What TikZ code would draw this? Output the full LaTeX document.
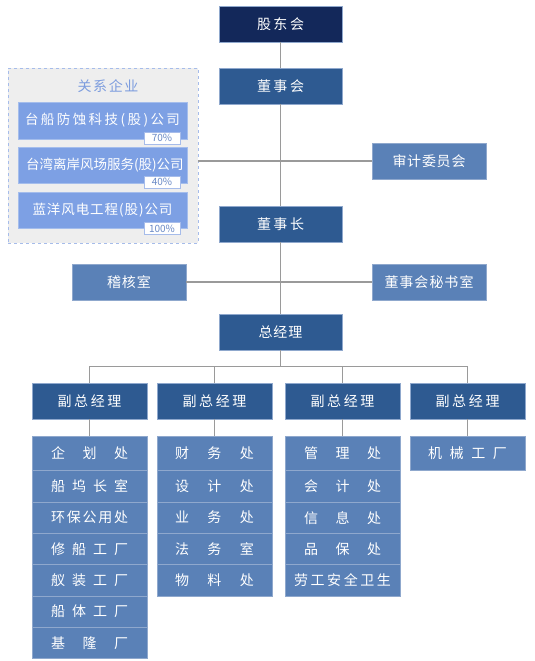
\documentclass[tikz,border=0pt]{standalone}
\usepackage{fontspec}
\setmainfont{Noto Sans CJK SC}
\usetikzlibrary{positioning,calc}

\definecolor{navy}{HTML}{13285A}
\definecolor{darkblue}{HTML}{2E5A91}
\definecolor{midblue}{HTML}{5A81B7}
\definecolor{itemblue}{HTML}{7DA0E4}
\definecolor{edgeblue}{HTML}{8FA8CD}
\definecolor{groupgray}{HTML}{EEEEEE}
\definecolor{dashblue}{HTML}{A6BCEA}
\definecolor{titleblue}{HTML}{7C9CDE}
\definecolor{tagblue}{HTML}{6A8AC6}
\definecolor{linegray}{HTML}{9A9A9A}

% spread the characters of #2 over a width of #1
\makeatletter
\def\spreadloop#1#2{#1\ifx\relax#2\expandafter\@gobble\else\hfill\expandafter\@firstofone\fi{\spreadloop#2}}
\makeatother
\newcommand{\spread}[2]{\makebox[#1][s]{\expandafter\spreadloop#2\relax}}

\tikzstyle{box} = [draw=edgeblue, line width=0.7pt, text=white, inner sep=0pt, outer sep=0pt, minimum height=36pt, font=\fontsize{14pt}{16pt}\selectfont]
\tikzstyle{topbox} = [box, fill=navy, minimum width=123pt]
\tikzstyle{mainbox} = [box, fill=darkblue, minimum width=123pt]
\tikzstyle{sidebox} = [box, fill=midblue, minimum width=114pt]
\tikzstyle{vpbox} = [box, fill=darkblue, minimum width=115pt]
\tikzstyle{deptbox} = [box, fill=midblue, minimum width=115pt, minimum height=31.3pt]
\tikzstyle{firstdept} = [deptbox, minimum height=34.7pt]
\tikzstyle{itembox} = [box, fill=itemblue, draw=itemblue!70!white, minimum width=169pt, font=\fontsize{13.5pt}{15pt}\selectfont]
\tikzstyle{tagbox} = [draw=dashblue, fill=white, line width=0.6pt, inner sep=1pt, minimum width=36pt, minimum height=12pt, text=tagblue, align=right, font=\fontsize{10pt}{11pt}\selectfont]
\tikzstyle{link} = [draw=linegray, line width=1.1pt]

\begin{document}
\begin{tikzpicture}[x=1pt, y=-1pt]
    \useasboundingbox (0,0) rectangle (535,661);

    % main chain
    \node[topbox] (holders) at (280.5,24) {\spread{47pt}{股东会}};
    \node[mainbox] (board) [below=26pt of holders] {\spread{47pt}{董事会}};
    \node[mainbox] (chair) [below=102pt of board] {\spread{47pt}{董事长}};
    \node[mainbox] (gm) [below=72pt of chair] {\spread{44pt}{总经理}};

    % side offices
    \node[sidebox] (audit) at (429,161) {\spread{73pt}{审计委员会}};
    \node[sidebox] (secretary) at (429,282) {\spread{89pt}{董事会秘书室}};
    \node[sidebox] (inspect) at (129,282) {\spread{44pt}{稽核室}};

    % related companies
    \node[draw=dashblue, dashed, fill=groupgray, line width=0.8pt, minimum width=190pt, minimum height=175pt] (group) at (103,155.5) {};
    \node[text=titleblue, font=\fontsize{14pt}{16pt}\selectfont] (grouptitle) at (108,86) {\spread{61pt}{关系企业}};
    \node[itembox, minimum height=37pt] (comp1) at (102.5,120.5) {\spread{155pt}{台船防蚀科技(股)公司}};
    \node[itembox] (comp2) at (102.5,165) {\spread{153pt}{台湾离岸风场服务(股)公司}\hspace{10pt}};
    \node[itembox] (comp3) at (102.5,210) {\spread{140pt}{蓝洋风电工程(股)公司}\hspace{4pt}};
    \node[tagbox] (tag1) at (162,138) {70\%};
    \node[tagbox] (tag2) at (162,182) {40\%};
    \node[tagbox] (tag3) at (162,228.5) {100\%};

    % vice general managers
    \node[vpbox] (vp1) at (89.5,401) {\spread{64pt}{副总经理}};
    \node[vpbox] (vp2) at (214.5,401) {\spread{64pt}{副总经理}};
    \node[vpbox] (vp3) at (342.5,401) {\spread{64pt}{副总经理}};
    \node[vpbox] (vp4) at (467.5,401) {\spread{64pt}{副总经理}};

    % departments
    \node[firstdept] (a1) [below=17pt of vp1] {\spread{77pt}{企划处}};
    \foreach \t [count=\k from 2, remember=\k as \prev (initially 1)] in {船坞长室,环保公用处,修船工厂,舣装工厂,船体工厂,基隆厂}
      \node[deptbox] (a\k) [below=0pt of a\prev] {\spread{77pt}{\t}};

    \node[firstdept] (b1) [below=17pt of vp2] {\spread{79pt}{财务处}};
    \foreach \t [count=\k from 2, remember=\k as \prev (initially 1)] in {设计处,业务处,法务室,物料处}
      \node[deptbox] (b\k) [below=0pt of b\prev] {\spread{79pt}{\t}};

    \node[firstdept] (c1) [below=17pt of vp3] {\spread{77pt}{管理处}};
    \foreach \t [count=\k from 2, remember=\k as \prev (initially 1)] in {会计处,信息处,品保处}
      \node[deptbox] (c\k) [below=0pt of c\prev] {\spread{77pt}{\t}};
    \node[deptbox] (c5) [below=0pt of c4] {\spread{97pt}{劳工安全卫生}};

    \node[firstdept] (d1) [below=17pt of vp4] {\spread{79pt}{机械工厂}};

    % connectors
    \draw[link] (holders) -- (board);
    \draw[link] (board) -- (chair);
    \draw[link] (chair) -- (gm);
    \draw[link] (group.east |- audit.west) -- (audit.west);
    \draw[link] (inspect.east) -- (secretary.west);
    \coordinate (bus) at ($(gm.south)!0.5!(gm.south |- vp1.north)$);
    \foreach \i in {1,...,4}
      \draw[link] (gm.south) -- (bus) -| (vp\i.north);
    \draw[link] (vp1) -- (a1);
    \draw[link] (vp2) -- (b1);
    \draw[link] (vp3) -- (c1);
    \draw[link] (vp4) -- (d1);
\end{tikzpicture}
\end{document}
